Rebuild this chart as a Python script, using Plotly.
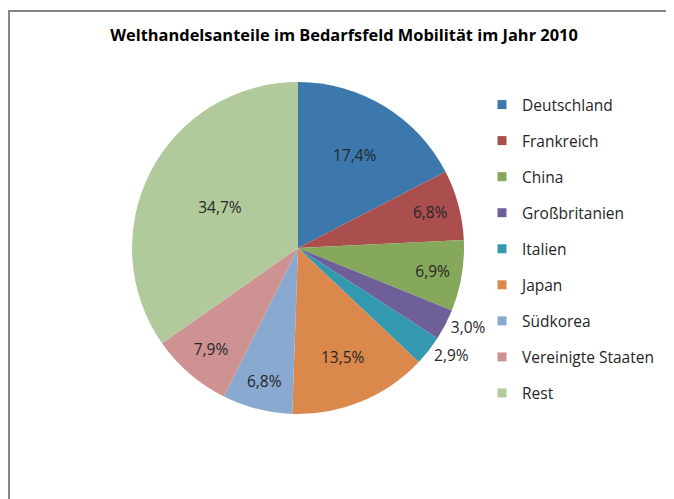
import plotly.graph_objects as go

categories = ["Deutschland", "Frankreich", "China", "Großbritanien", "Italien",
              "Japan", "Südkorea", "Vereinigte Staaten", "Rest"]
values = [17.4, 6.8, 6.9, 3.0, 2.9, 13.5, 6.8, 7.9, 34.7]
colors = ["#3C78AB", "#AA4F4E", "#86A85A", "#6E5F99", "#3399B0",
          "#DA884C", "#8AA9D0", "#CE9293", "#B1CA9B"]
title = "Welthandelsanteile im Bedarfsfeld Mobilität im Jahr 2010"

# page body has an 8px margin, so figure coords = screen coords - 8
W, H = 666, 491
cx, cy, r = 290, 240, 166

positions = ["inside", "inside", "inside", "outside", "outside",
             "inside", "inside", "inside", "inside"]

FONT = "Open Sans"

fig = go.Figure()
fig.add_trace(go.Pie(
    labels=categories, values=values, sort=False, direction="clockwise",
    rotation=0, marker=dict(colors=colors, line=dict(width=0)),
    texttemplate="%{value:.1f}%", textposition=positions,
    insidetextorientation="horizontal",
    textfont=dict(family=FONT, size=15.5, color="#262626"),
    showlegend=False, hoverinfo="label+value",
    domain=dict(x=[(cx - r) / W, (cx + r) / W],
                y=[(H - cy - r) / H, (H - cy + r) / H]),
))

for name, col in zip(categories, colors):
    fig.add_trace(go.Scatter(
        x=[None], y=[None], mode="markers", name=name, legendgroup=name,
        marker=dict(symbol="square", size=9, color=col),
        showlegend=True,
    ))

fig.update_layout(
    width=W, height=H,
    margin=dict(l=0, r=0, t=0, b=0),
    paper_bgcolor="white", plot_bgcolor="white",
    separators=",.",
    title=dict(text="<b>" + title + "</b>", x=336 / W, xanchor="center",
               y=1 - 27 / H, yanchor="middle",
               font=dict(family=FONT, size=16.4, color="#000000")),
    xaxis=dict(visible=False), yaxis=dict(visible=False),
    legend=dict(x=474 / W, xanchor="left", y=1 - 80 / H, yanchor="top",
                font=dict(family=FONT, size=15.5, color="#262626"),
                tracegroupgap=12.9, itemwidth=30, bgcolor="rgba(0,0,0,0)"),
    shapes=[
        dict(type="line", xref="paper", yref="paper",
             x0=1 / W, x1=1 / W, y0=0, y1=1 - 2 / H,
             line=dict(color="#868686", width=2)),
        dict(type="line", xref="paper", yref="paper",
             x0=0, x1=1, y0=1 - 3 / H, y1=1 - 3 / H,
             line=dict(color="#868686", width=2)),
    ],
)

fig.write_html("out.html")
